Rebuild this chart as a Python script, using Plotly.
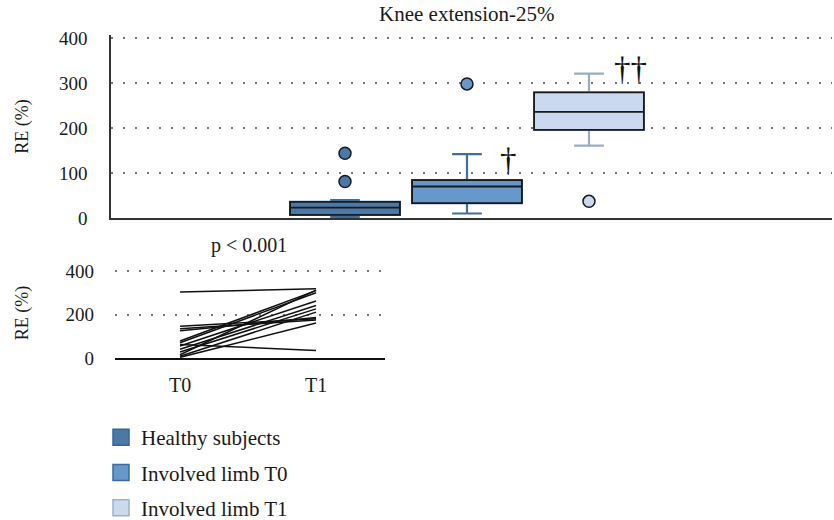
import plotly.graph_objects as go

# ---------------- data ----------------
groups = ["Healthy subjects", "Involved limb T0", "Involved limb T1"]
group_x = [0, 1, 2]
q1 = [7, 33, 196]
median = [23, 70, 236]
q3 = [36, 84, 279]
lower_whisker = [2, 10, 161]
upper_whisker = [40, 142, 321]
outlier_group = [0, 0, 1, 2]
outlier_value = [144, 81, 298, 37]
marks = ["", "†", "††"]
mark_y = [0, 129, 331]

# paired data (bottom panel)
time_labels = ["T0", "T1"]
re_t0 = [303, 146, 135, 125, 78, 70, 62, 55, 40, 28, 15, 8, 3]
re_t1 = [318, 180, 175, 186, 310, 300, 35, 262, 241, 226, 312, 211, 161]

top_ticks = [0, 100, 200, 300, 400]
bottom_ticks = [0, 200, 400]

# ---------------- styles ----------------
fills = ["#4a79a8", "#6599cb", "#cad9f0"]
whisker_cols = ["#3f6e9d", "#3f6e9d", "#9aabc4"]
edge_cols = ["#3a6590", "#3d6a98", "#9fb0c8"]
FONT = "Liberation Serif, Times New Roman, serif"
W, H = 834, 520

fig = go.Figure()

for i in range(3):
    # whiskers (coloured)
    fig.add_trace(go.Box(
        x=[group_x[i]], q1=[q1[i]], median=[median[i]], q3=[q3[i]],
        lowerfence=[lower_whisker[i]], upperfence=[upper_whisker[i]],
        width=0.9, whiskerwidth=0.27, boxpoints=False,
        fillcolor=fills[i], line=dict(color=whisker_cols[i], width=2.2),
        showlegend=False, hoverinfo="skip", xaxis="x", yaxis="y"))
    # box body (black outline + median)
    fig.add_trace(go.Box(
        x=[group_x[i]], q1=[q1[i]], median=[median[i]], q3=[q3[i]],
        lowerfence=[q1[i]], upperfence=[q3[i]],
        width=0.9, whiskerwidth=0, boxpoints=False,
        fillcolor=fills[i], line=dict(color="#1a1a1a", width=1.8),
        showlegend=False, xaxis="x", yaxis="y"))

# outliers
fig.add_trace(go.Scatter(
    x=[group_x[g] for g in outlier_group], y=outlier_value, mode="markers",
    marker=dict(size=12, color=[fills[g] for g in outlier_group],
                line=dict(color="#1a1a1a", width=1.5)),
    showlegend=False, xaxis="x", yaxis="y"))

# significance marks
for i in range(3):
    if marks[i]:
        fig.add_annotation(x=group_x[i] + 0.34, y=mark_y[i], xref="x", yref="y",
                           text=marks[i], showarrow=False,
                           font=dict(family=FONT, size=33, color="#111"))

# paired lines
lx, ly = [], []
for a, b in zip(re_t0, re_t1):
    lx += [0, 1, None]
    ly += [a, b, None]
fig.add_trace(go.Scatter(x=lx, y=ly, mode="lines",
                         line=dict(color="#111", width=1.5),
                         showlegend=False, xaxis="x2", yaxis="y2"))

# legend entries
for i in range(3):
    fig.add_trace(go.Scatter(
        x=[None], y=[None], mode="markers", name=groups[i], legendgroup=groups[i],
        marker=dict(symbol="square", size=20, color=fills[i],
                    line=dict(color=edge_cols[i], width=1.5)),
        xaxis="x", yaxis="y"))

TOP0, TOP400 = 218, 38
BOT0, BOT400 = 358, 271
EXT = 3  # extra px above the 400 line so its grid line is kept

fig.update_layout(
    width=W, height=H,
    margin=dict(l=0, r=0, t=0, b=0, autoexpand=False),
    paper_bgcolor="white", plot_bgcolor="white",
    boxmode="overlay",
    font=dict(family=FONT, size=19, color="#1a1a1a"),
    showlegend=True,
    legend=dict(x=101 / W, y=1 - 417 / H, xanchor="left", yanchor="top",
                font=dict(family=FONT, size=21, color="#1a1a1a"),
                tracegroupgap=5, bgcolor="rgba(0,0,0,0)"),
    xaxis=dict(domain=[111 / W, 832 / W], range=[-1.918, 3.992],
               showticklabels=False, showgrid=False, zeroline=False,
               showline=True, linecolor="#333", linewidth=1.5),
    yaxis=dict(domain=[1 - TOP0 / H, 1 - (TOP400 - EXT) / H],
               range=[0, 400 * (TOP0 - TOP400 + EXT) / (TOP0 - TOP400)],
               tickvals=top_ticks, showline=True, linecolor="#333", linewidth=1.5,
               showgrid=True, gridcolor="#777", gridwidth=1.5, griddash="1.5px,10.5px",
               zeroline=False, ticks="", ticklabelstandoff=18,
               title=dict(text="RE (%)", standoff=26, font=dict(size=18)),
               automargin=False),
    xaxis2=dict(domain=[115 / W, 385 / W], range=[-0.478, 1.507],
                tickvals=[0, 1], ticktext=time_labels, ticks="",
                ticklabelstandoff=8, tickfont=dict(size=20),
                showgrid=False, zeroline=False,
                showline=True, linecolor="#111", linewidth=2.2,
                anchor="y2", automargin=False),
    yaxis2=dict(domain=[1 - BOT0 / H, 1 - (BOT400 - EXT) / H],
                range=[0, 400 * (BOT0 - BOT400 + EXT) / (BOT0 - BOT400)],
                tickvals=bottom_ticks, showline=False,
                showgrid=True, gridcolor="#777", gridwidth=1.5, griddash="1.5px,10.5px",
                zeroline=False, ticks="", ticklabelstandoff=20,
                title=dict(text="RE (%)", standoff=32, font=dict(size=18)),
                anchor="x2", automargin=False),
)

fig.add_annotation(x=467 / W, y=1 - 14 / H, xref="paper", yref="paper",
                   xanchor="center", yanchor="middle",
                   text="Knee extension-25%", showarrow=False,
                   font=dict(family=FONT, size=21))
fig.add_annotation(x=249 / W, y=1 - 245 / H, xref="paper", yref="paper",
                   xanchor="center", yanchor="middle",
                   text="p < 0.001", showarrow=False, font=dict(family=FONT, size=20))

fig.write_html("out.html", config={"displayModeBar": False},
               post_script="document.body.style.margin='0';")
